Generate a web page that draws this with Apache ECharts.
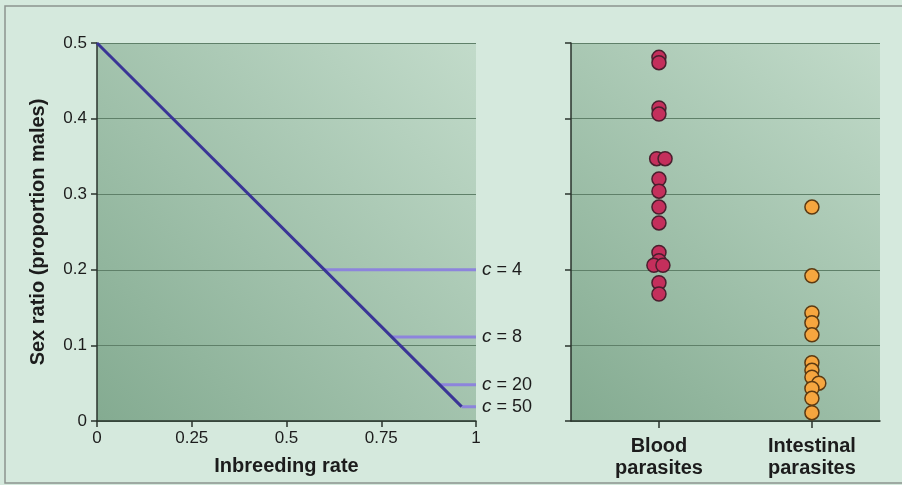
<!DOCTYPE html>
<html>
<head>
<meta charset="utf-8">
<script src="https://cdn.jsdelivr.net/npm/echarts@6/dist/echarts.min.js"></script>
<style>
  html, body { margin: 0; padding: 0; background: #d5e9dd; }
  #chart { width: 902px; height: 485px; }
</style>
</head>
<body>
<div id="chart"></div>
<script>
// left panel: inbreeding rate vs sex ratio
var inbreedingTicks = [0, 0.25, 0.5, 0.75, 1];
var mainLine = [[0, 0.5], [0.962, 0.019]];
var cLabels = ['4', '8', '20', '50'];
var cStart = [0.6, 0.778, 0.904, 0.962];
var cRatio = [0.2, 0.111, 0.048, 0.019];

// right panel: observed sex ratios
var groups = ['Blood\nparasites', 'Intestinal\nparasites'];
var bloodX = [1, 1, 1, 1, 0.985, 1.04, 1, 1, 1, 1, 1, 1.0, 0.967, 1.026, 1, 1];
var bloodY = [0.481, 0.474, 0.414, 0.406, 0.347, 0.347, 0.320, 0.304, 0.283, 0.262, 0.223, 0.212, 0.206, 0.206, 0.183, 0.168];
var gutX = [2, 2, 2, 2, 2, 2, 2, 2, 2.045, 2, 2, 2];
var gutY = [0.283, 0.192, 0.143, 0.130, 0.114, 0.077, 0.067, 0.058, 0.050, 0.043, 0.030, 0.011];

var chart = echarts.init(document.getElementById('chart'));

var plotBg = new echarts.graphic.LinearGradient(0, 1, 1, 0, [
    { offset: 0, color: '#84ab91' },
    { offset: 1, color: '#c2dbca' }
]);
var axisCol = '#2a332d';
var gridCol = '#5f8069';
var textCol = '#1c1c1c';
var font = 'Liberation Sans';

var cSeries = cLabels.map(function (c, i) {
    return {
        type: 'line',
        xAxisIndex: 0, yAxisIndex: 0,
        data: [[cStart[i], cRatio[i]], [1, cRatio[i]]],
        symbol: 'none',
        lineStyle: { color: '#8d84dc', width: 3 },
        z: 3,
        endLabel: {
            show: true,
            distance: 6,
            formatter: '{i|c} = ' + c,
            color: textCol,
            fontFamily: font,
            fontSize: 18,
            rich: { i: { fontStyle: 'italic', fontSize: 19, fontFamily: font, color: textCol } }
        }
    };
});

chart.setOption({
    backgroundColor: '#d5e9dd',
    animation: false,
    graphic: [{
        type: 'rect',
        shape: { x: 5, y: 6, width: 900, height: 477 },
        style: { fill: 'none', stroke: '#8c948f', lineWidth: 1.5 },
        silent: true
    }],
    grid: [
        { left: 97, right: 426, top: 43, bottom: 64, show: true, backgroundColor: plotBg, borderWidth: 0 },
        { left: 571, right: 22, top: 43, bottom: 64, show: true, backgroundColor: plotBg, borderWidth: 0 }
    ],
    xAxis: [{
        gridIndex: 0, type: 'value', min: 0, max: 1, interval: 0.25,
        name: 'Inbreeding rate', nameLocation: 'middle', nameGap: 35,
        nameTextStyle: { fontFamily: font, fontSize: 20, fontWeight: 'bold', color: textCol },
        axisLine: { lineStyle: { color: axisCol, width: 1.5 } },
        axisTick: { length: 6, lineStyle: { color: axisCol, width: 1.5 } },
        axisLabel: { margin: 9, fontFamily: font, fontSize: 17, color: textCol,
            customValues: inbreedingTicks },
        splitLine: { show: false }
    }, {
        gridIndex: 1, type: 'value', min: 0.425, max: 2.445,
        axisLine: { lineStyle: { color: axisCol, width: 1.5 } },
        axisTick: { length: 7, lineStyle: { color: axisCol, width: 1.5 }, customValues: [1, 2] },
        axisLabel: {
            margin: 14, fontFamily: font, fontSize: 20, fontWeight: 'bold', color: textCol,
            lineHeight: 22, customValues: [1, 2],
            formatter: function (v) { return groups[Math.round(v) - 1]; }
        },
        splitLine: { show: false }
    }],
    yAxis: [{
        gridIndex: 0, type: 'value', min: 0, max: 0.5, interval: 0.1,
        name: 'Sex ratio (proportion males)', nameLocation: 'middle', nameGap: 49,
        nameTextStyle: { fontFamily: font, fontSize: 20, fontWeight: 'bold', color: textCol },
        axisLine: { show: true, lineStyle: { color: axisCol, width: 1.5 } },
        axisTick: { show: true, length: 6, lineStyle: { color: axisCol, width: 1.5 } },
        axisLabel: { margin: 10, fontFamily: font, fontSize: 17, color: textCol },
        splitLine: { lineStyle: { color: gridCol, width: 1 } }
    }, {
        gridIndex: 1, type: 'value', min: 0, max: 0.5, interval: 0.1,
        axisLine: { show: true, lineStyle: { color: axisCol, width: 1.5 } },
        axisTick: { show: true, length: 6, lineStyle: { color: axisCol, width: 1.5 } },
        axisLabel: { show: false },
        splitLine: { lineStyle: { color: gridCol, width: 1 } }
    }],
    series: [{
        type: 'line',
        xAxisIndex: 0, yAxisIndex: 0,
        data: mainLine,
        symbol: 'none',
        lineStyle: { color: '#3a3596', width: 3 },
        z: 4
    }].concat(cSeries).concat([{
        type: 'scatter',
        xAxisIndex: 1, yAxisIndex: 1,
        data: bloodX.map(function (x, i) { return [x, bloodY[i]]; }),
        symbolSize: 14,
        itemStyle: { color: '#c42f5c', borderColor: '#4a1f2e', borderWidth: 1.5, opacity: 1 }
    }, {
        type: 'scatter',
        xAxisIndex: 1, yAxisIndex: 1,
        data: gutX.map(function (x, i) { return [x, gutY[i]]; }),
        symbolSize: 14,
        itemStyle: { color: '#f6a63f', borderColor: '#5c3a12', borderWidth: 1.5, opacity: 1 }
    }])
});
</script>
</body>
</html>
